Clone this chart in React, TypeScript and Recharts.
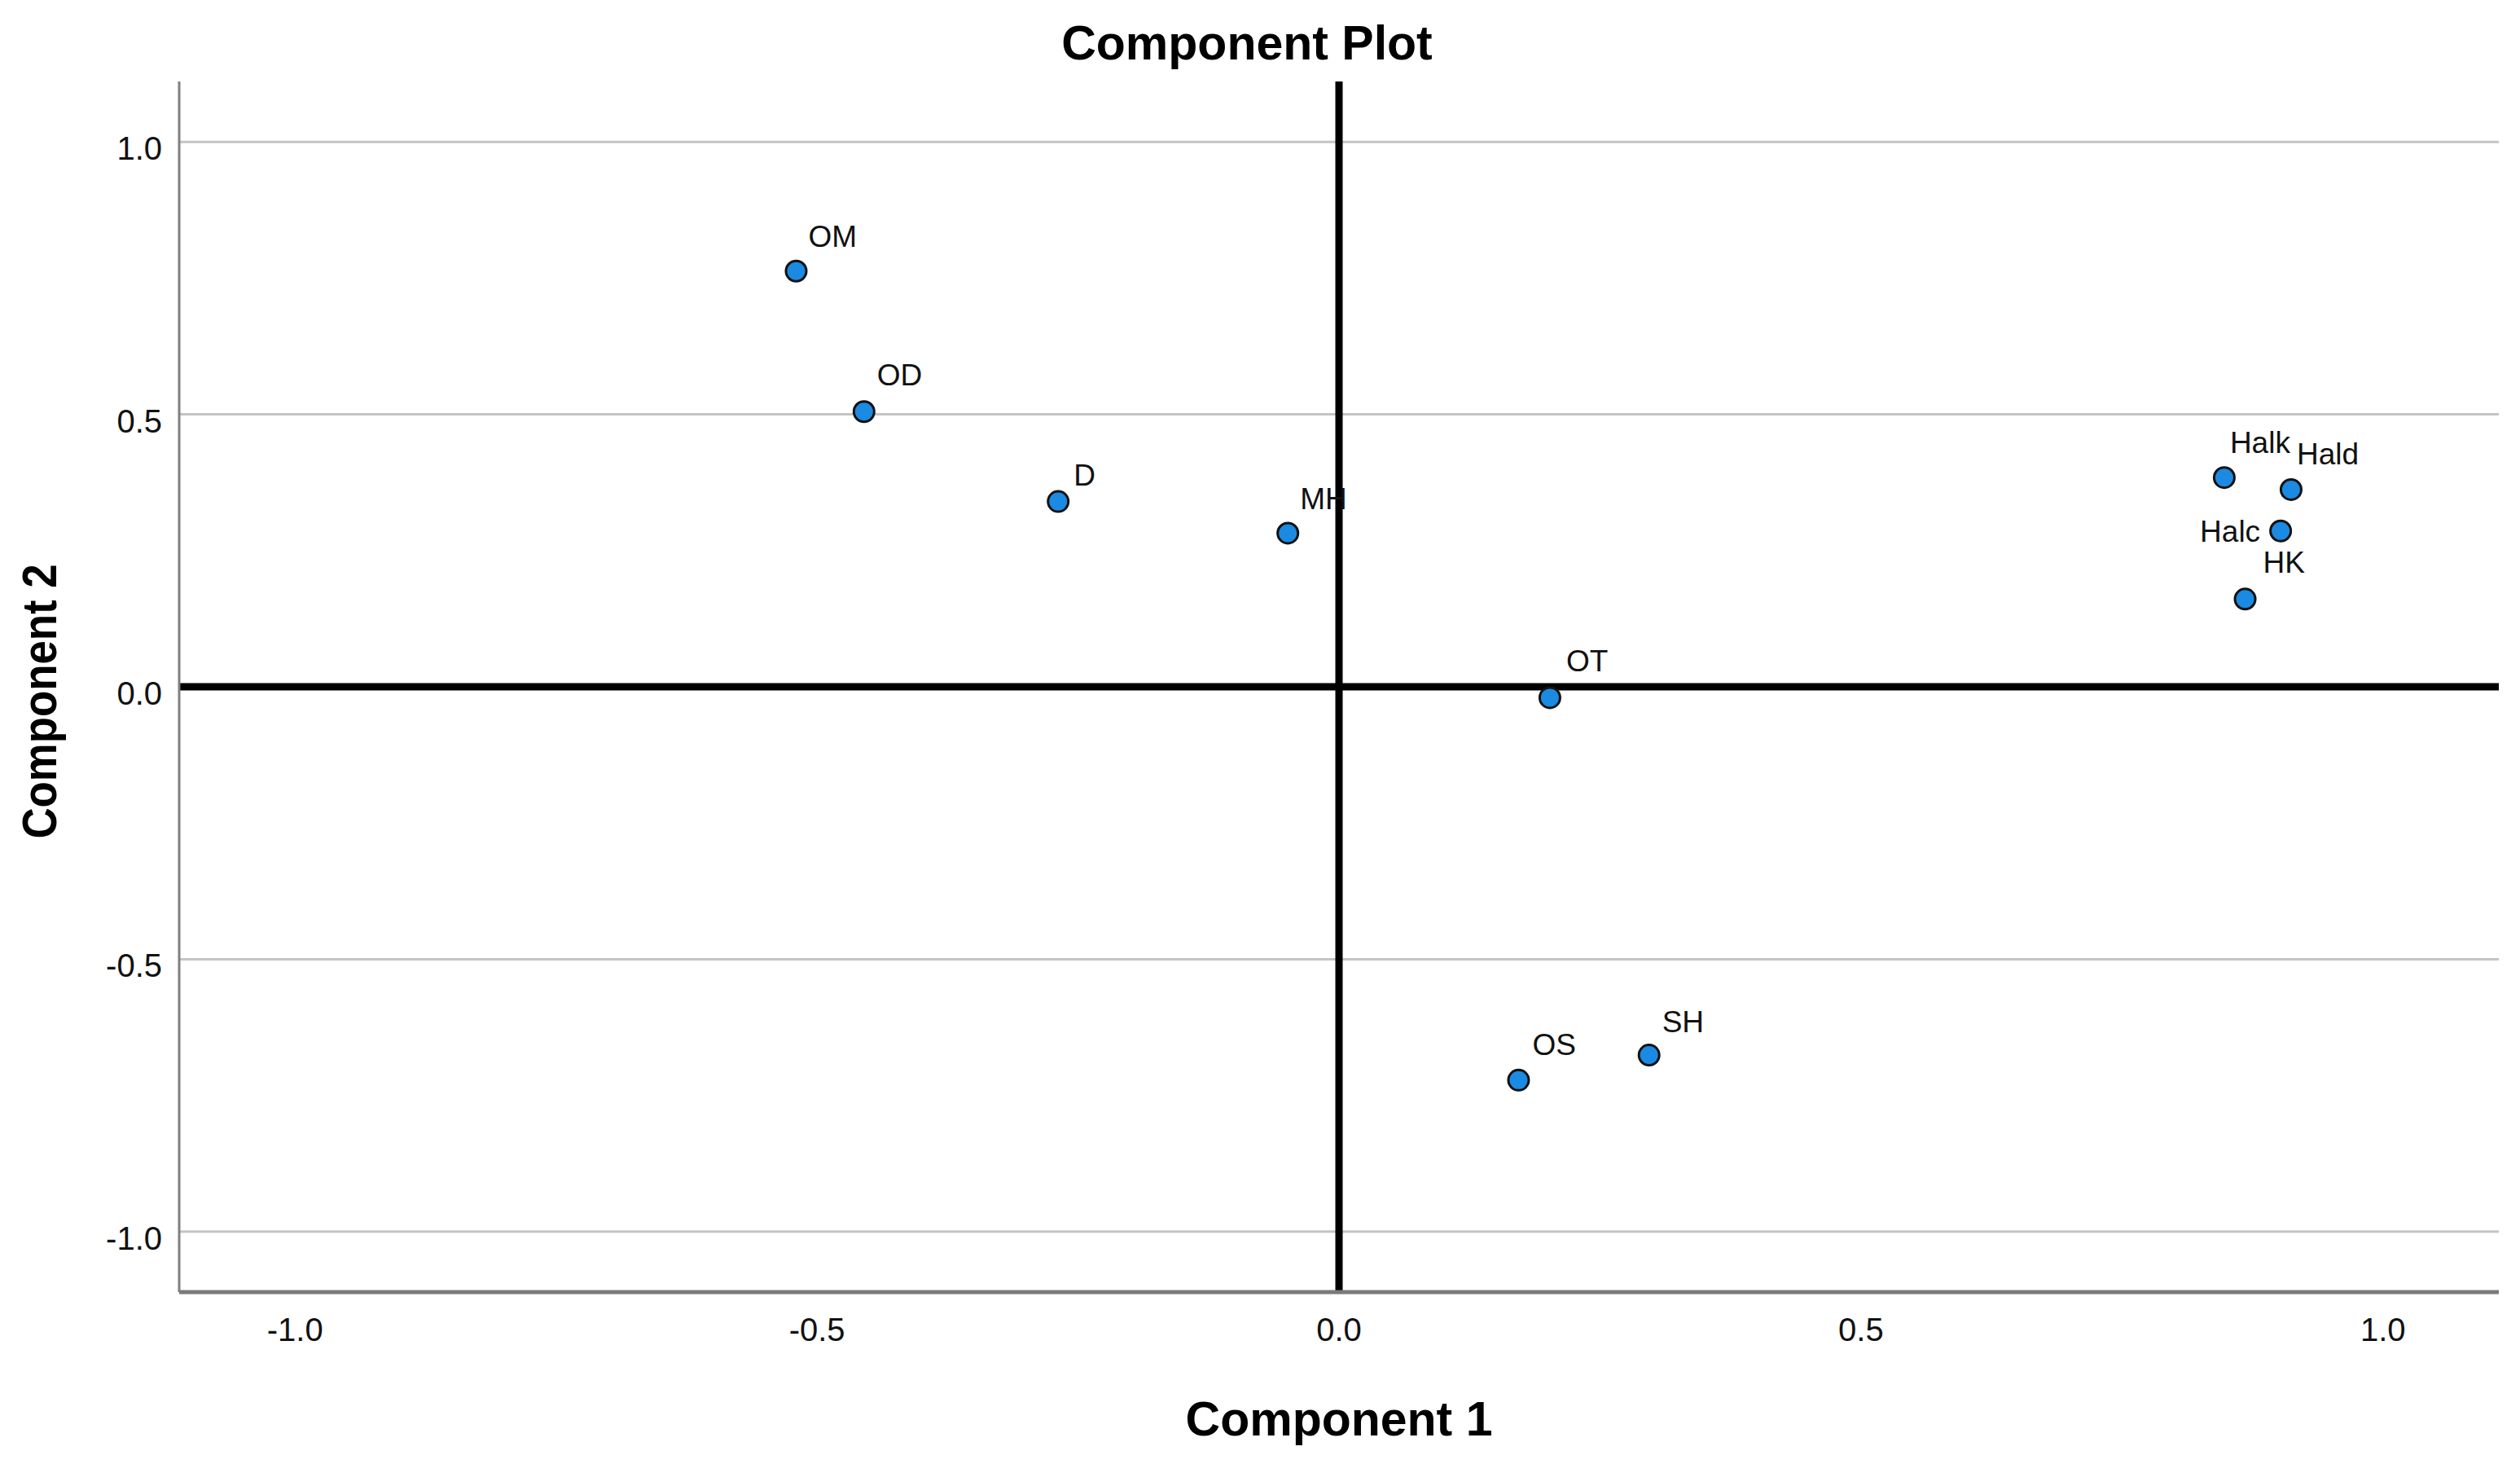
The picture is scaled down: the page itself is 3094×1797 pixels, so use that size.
import { ScatterChart, Scatter, XAxis, YAxis, ReferenceLine, Label } from "recharts"

// component loadings
const names = ["OM", "OD", "D", "MH", "OT", "OS", "SH", "Halk", "Hald", "Halc", "HK"]
const component1 = [-0.52, -0.455, -0.269, -0.049, 0.202, 0.172, 0.297, 0.848, 0.912, 0.902, 0.868]
const component2 = [0.763, 0.505, 0.34, 0.282, -0.02, -0.722, -0.676, 0.384, 0.362, 0.286, 0.161]
const axisTicks = [-1, -0.5, 0, 0.5, 1]
const gridValues = [-1, -0.5, 0.5, 1]

const points = names.map((name, i) => ({ name, c1: component1[i], c2: component2[i] }))

// where each point's label sits relative to the marker (dx, dy to cap centre, anchor)
const labelPlacement: Record<string, [number, number, "start" | "end"]> = {
  OM: [15, -43, "start"],
  OD: [16, -45, "start"],
  D: [19, -33, "start"],
  MH: [15, -42, "start"],
  OT: [20, -45, "start"],
  OS: [17, -44, "start"],
  SH: [16, -41, "start"],
  Halk: [7, -43, "start"],
  Hald: [7, -44, "start"],
  Halc: [-25, 0, "end"],
  HK: [22, -45, "start"],
}

const FONT = "'Liberation Sans', Arial, sans-serif"
const DOMAIN: [number, number] = [-1.111, 1.111]

const PointShape = (props: any) => {
  const { cx, cy, payload } = props
  const [dx, dy, anchor] = labelPlacement[payload.name] || [15, -43, "start"]
  return (
    <g>
      <circle cx={cx} cy={cy} r={12.5} fill="#1a8ae2" stroke="#111" strokeWidth={3} />
      <text x={cx + dx} y={cy + dy + 13} textAnchor={anchor} fontFamily={FONT} fontSize={37} fill="#111">
        {payload.name}
      </text>
    </g>
  )
}

const XTick = ({ x, y, payload }: any) => (
  <text x={x} y={y + 60} textAnchor="middle" fontFamily={FONT} fontSize={40} fill="#111">
    {payload.value.toFixed(1)}
  </text>
)

const YTick = ({ x, y, payload }: any) => (
  <text x={x - 21} y={y + 22} textAnchor="end" fontFamily={FONT} fontSize={40} fill="#111">
    {payload.value.toFixed(1)}
  </text>
)

const YTitle = ({ viewBox }: any) => {
  const bx = viewBox.x + 69
  const cy = viewBox.y + viewBox.height / 2 + 18
  return (
    <text
      x={bx}
      y={cy}
      transform={`rotate(-90 ${bx} ${cy})`}
      textAnchor="middle"
      fontFamily={FONT}
      fontWeight="bold"
      fontSize={60}
      textLength={337}
      lengthAdjust="spacingAndGlyphs"
      fill="#000"
    >
      Component 2
    </text>
  )
}

const XTitle = ({ viewBox }: any) => (
  <text
    x={viewBox.x + viewBox.width / 2}
    y={viewBox.y + 176}
    textAnchor="middle"
    fontFamily={FONT}
    fontWeight="bold"
    fontSize={59}
    fill="#000"
  >
    Component 1
  </text>
)

export default function App() {
  return (
    <div style={{ position: "absolute", left: 0, top: 0, width: 3094, height: 1797, background: "#fff" }}>
      <div
        style={{
          position: "absolute",
          left: 0,
          top: 24,
          width: 3062,
          textAlign: "center",
          fontFamily: FONT,
          fontWeight: "bold",
          fontSize: 59,
          lineHeight: "59px",
          color: "#000",
        }}
      >
        Component Plot
      </div>
      <ScatterChart width={3094} height={1797} margin={{ top: 100, right: 26, left: 0, bottom: 0 }}>
        <XAxis
          type="number"
          dataKey="c1"
          domain={DOMAIN}
          ticks={axisTicks}
          allowDataOverflow
          height={211}
          tickSize={0}
          tickMargin={0}
          tick={<XTick />}
          axisLine={{ stroke: "#7a7a7a", strokeWidth: 5 }}
          tickLine={false}
        >
          <Label content={<XTitle />} />
        </XAxis>
        <YAxis
          type="number"
          dataKey="c2"
          domain={DOMAIN}
          ticks={axisTicks}
          allowDataOverflow
          width={220}
          tickSize={0}
          tickMargin={0}
          tick={<YTick />}
          axisLine={{ stroke: "#808080", strokeWidth: 3 }}
          tickLine={false}
        >
          <Label content={<YTitle />} />
        </YAxis>
        {gridValues.map((v) => (
          <ReferenceLine key={v} y={v} stroke="#c4c4c4" strokeWidth={3} />
        ))}
        <ReferenceLine y={0} stroke="#000" strokeWidth={9} />
        <ReferenceLine x={0} stroke="#000" strokeWidth={9} />
        <Scatter data={points} shape={<PointShape />} isAnimationActive={false} />
      </ScatterChart>
    </div>
  )
}
